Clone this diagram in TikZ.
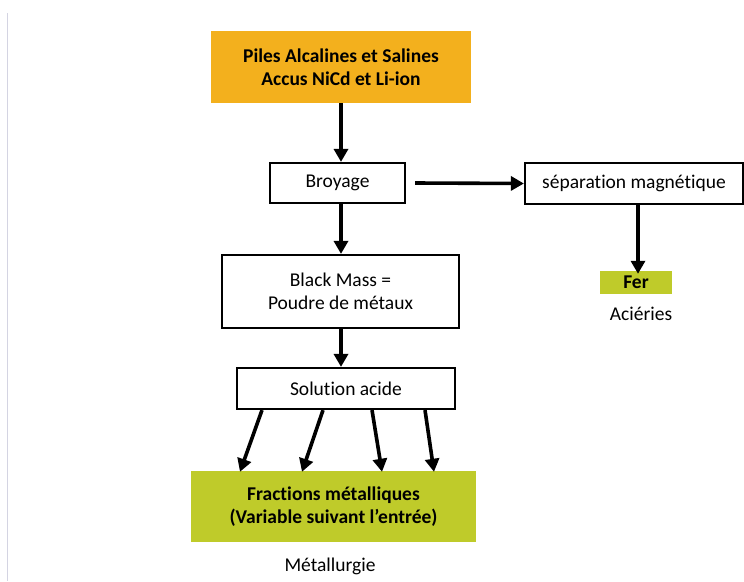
\documentclass[tikz,border=0pt]{standalone}
\usepackage{fontspec}
\setmainfont[Ligatures=NoCommon]{Carlito}
\usetikzlibrary{arrows.meta}
\definecolor{orng}{HTML}{F3B01D}
\definecolor{lime}{HTML}{BFCB2A}
\definecolor{pageline}{HTML}{D4D4E2}
\begin{document}
\begin{tikzpicture}[x=1pt,y=-1pt,
  box/.style={draw=black,line width=2.2pt,fill=white,inner sep=0pt,align=center,font=\fontsize{19.5}{23}\selectfont},
  fillbox/.style={inner sep=0pt,align=center,font=\fontsize{19.5}{23}\selectfont\bfseries},
  lbl/.style={inner sep=0pt,font=\fontsize{19.5}{23}\selectfont},
  arr/.style={line width=3.6pt,-{Triangle[width=14pt,length=13pt]}}]
\useasboundingbox (0,0) rectangle (744,581);
\draw[pageline,line width=1pt] (7.5,13) -- (7.5,581);
\node[fillbox,fill=orng,minimum width=260pt,minimum height=72pt] (top) at (341,67) {Piles Alcalines et Salines\\Accus NiCd et Li-ion};
\node[box,minimum width=135pt,minimum height=40pt] (broy) at (337.5,183) {Broyage};
\node[box,minimum width=218pt,minimum height=41pt] (sep) at (634,183.5) {séparation magnétique};
\node[fillbox,fill=lime,minimum width=72pt,minimum height=23pt] (fer) at (636,282.5) {Fer};
\node[lbl] (acier) at (641,314) {Aciéries};
\node[box,minimum width=237pt,minimum height=73pt] (bm) at (340.5,291.5) {Black Mass =\\Poudre de métaux};
\node[box,minimum width=218pt,minimum height=41pt] (sol) at (346,388.5) {Solution acide};
\node[fillbox,fill=lime,minimum width=285pt,minimum height=71pt] (frac) at (333.5,506.5) {Fractions métalliques\\(Variable suivant l’entrée)};
\node[lbl] (metal) at (330,566) {Métallurgie};
\draw[arr] (top.south) -- (top.south |- broy.north);
\draw[arr] ([xshift=9pt]broy.east) -- (sep.west);
\draw[arr] ([xshift=4pt]sep.south) -- ([xshift=2pt,yshift=-3pt]fer.north);
\draw[arr] (broy.south -| top) -- (bm.north -| top);
\draw[arr] (bm.south -| top) -- (sol.north -| top);
\draw[arr] ([xshift=-84pt]sol.south) -- ([xshift=-93.5pt,yshift=-1pt]frac.north);
\draw[arr] ([xshift=-23pt]sol.south) -- ([xshift=-31.5pt,yshift=-1pt]frac.north);
\draw[arr] ([xshift=26pt]sol.south) -- ([xshift=48.5pt,yshift=-1pt]frac.north);
\draw[arr] ([xshift=79pt]sol.south) -- ([xshift=100.5pt,yshift=-1pt]frac.north);
\end{tikzpicture}
\end{document}
